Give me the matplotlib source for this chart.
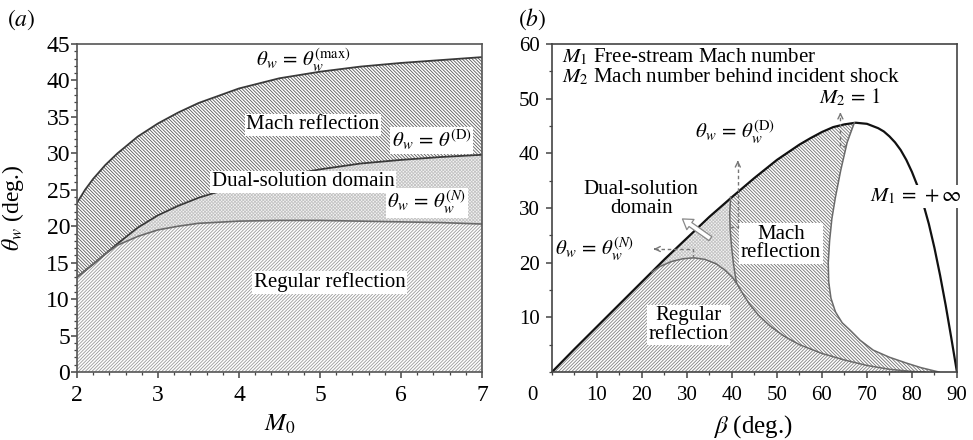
import numpy as np
import matplotlib
matplotlib.use("Agg")
from matplotlib import pyplot as plt
from matplotlib.ticker import MultipleLocator

plt.rcParams["font.family"] = ["Liberation Serif", "DejaVu Serif"]
plt.rcParams["mathtext.fontset"] = "stix"
plt.rcParams["hatch.linewidth"] = 0.6

# (a) transition boundaries against free-stream Mach number
M0 = [2.0, 2.1, 2.2, 2.35, 2.5, 2.75, 3.0, 3.25, 3.5, 4.0, 4.5, 5.0, 5.5, 6.0, 6.5, 7.0]
theta_max = [23.2, 25.0, 26.5, 28.4, 30.0, 32.3, 34.1, 35.6, 36.9, 38.9, 40.3, 41.2, 41.9, 42.4, 42.8, 43.2]
theta_D = [13.0, 13.9, 14.8, 16.2, 17.6, 19.8, 21.5, 22.8, 23.9, 25.6, 26.8, 27.8, 28.6, 29.1, 29.5, 29.8]
theta_N = [13.0, 13.9, 14.8, 16.2, 17.4, 18.6, 19.5, 20.0, 20.4, 20.7, 20.8, 20.8, 20.7, 20.6, 20.5, 20.3]

# (b) shock angle / wedge angle plane
beta_inf = [0, 5, 10, 15, 20, 25, 30, 35, 40, 45, 50, 55, 57.5, 60, 62.5, 65, 67.5, 70,
            72.5, 73.75, 75, 76.25, 77.5, 78.75, 80, 81.25, 82.5, 83.75, 85, 86.25, 87.5,
            88.75, 90]
theta_inf = [0, 4.2, 8.3, 12.4, 16.5, 20.6, 24.5, 28.4, 32.0, 35.5, 38.8, 41.6, 42.8, 43.9,
             44.8, 45.3, 45.6, 45.4, 44.6, 44.0, 43.1, 42.0, 40.6, 38.8, 36.6, 34.0, 30.8,
             27.1, 22.7, 17.7, 12.2, 6.2, 0]
beta_sonic = [67.2, 65.6, 64.2, 63.0, 62.2, 61.7, 61.4, 61.5, 62.0, 63.0, 64.5, 66.2, 68.5,
              71.4, 75.0, 78.9, 82.0, 84.0, 86.0]
theta_sonic = [45.6, 42.0, 37.0, 32.0, 28.0, 24.0, 20.0, 16.5, 13.5, 11.0, 9.0, 7.7, 5.8,
               4.0, 2.7, 1.6, 0.8, 0.4, 0.0]
beta_N = [22.2, 24.0, 26.5, 29.0, 31.5, 34.0, 36.5, 38.5, 40.0, 41.0]
theta_Nb = [18.3, 19.3, 20.2, 20.7, 20.9, 20.6, 19.8, 18.6, 17.4, 16.3]
beta_D = [39.7, 39.5, 39.6, 39.9, 40.3, 40.7, 41.0]
theta_Db = [32.0, 29.0, 26.0, 23.0, 20.0, 17.8, 16.3]
beta_RM = [41.0, 42.5, 44.0, 46.0, 48.5, 51.5, 55.0, 60.0, 65.0, 70.0, 75.0, 80.0, 83.0]
theta_RM = [16.3, 14.2, 12.3, 10.3, 8.4, 6.6, 5.0, 3.4, 2.2, 1.2, 0.5, 0.1, 0.0]

DARK = "#3a3a3a"
GREY = "#6a6a6a"
box = dict(facecolor="white", edgecolor="none", pad=1.0)
H_REG = "/" * 10
H_MACH = "\\" * 10
H_DUAL = "x" * 10

fig = plt.figure(figsize=(9.73, 4.40), dpi=100)
ax1 = fig.add_axes([0.0791, 0.1545, 0.4162, 0.7455])
ax2 = fig.add_axes([0.5673, 0.1545, 0.4162, 0.7455])

# ---------------- (a) ----------------
ax1.fill_between(M0, 0, theta_N, facecolor="white", edgecolor="#9a9a9a", hatch=H_REG, lw=0)
ax1.fill_between(M0, theta_N, theta_D, facecolor="#f4f4f4", edgecolor="#c4c4c4", hatch=H_DUAL, lw=0)
ax1.fill_between(M0, theta_D, theta_max, facecolor="white", edgecolor="#5a5a5a", hatch=H_MACH, lw=0)
ax1.plot(M0, theta_max, color=DARK, lw=1.3)
ax1.plot(M0, theta_D, color=DARK, lw=1.3)
ax1.plot(M0, theta_N, color=GREY, lw=1.2)

ax1.set_xlim(2, 7)
ax1.set_ylim(0, 45)
ax1.xaxis.set_major_locator(MultipleLocator(1))
ax1.xaxis.set_minor_locator(MultipleLocator(0.2))
ax1.yaxis.set_major_locator(MultipleLocator(5))
ax1.yaxis.set_minor_locator(MultipleLocator(1))
ax1.tick_params(which="both", direction="out", labelsize=17, color="#444444")
ax1.tick_params(which="major", length=4, width=1.1)
ax1.tick_params(which="minor", length=2.5, width=0.9)
ax1.tick_params(axis="x", pad=5)
ax1.tick_params(axis="y", pad=1)
for sp in ax1.spines.values():
    sp.set_color("#555555")
    sp.set_linewidth(1.2)

ax1.set_xlabel("$M_0$", fontsize=18)
ax1.xaxis.set_label_coords(0.5, -0.125)
ax1.set_ylabel(r"$\theta_w$ (deg.)", fontsize=17)
ax1.yaxis.set_label_coords(-0.125, 0.5)

ax1.text(4.79, 42.8, r"$\theta_w\,=\,\theta_w^{(\mathrm{max})}$", fontsize=15, ha="center", va="center")
ax1.text(4.91, 33.9, "Mach reflection", fontsize=15, ha="center", va="center", bbox=box)
ax1.text(6.38, 31.8, r"$\theta_w\,=\,\theta^{(\mathrm{D})}$", fontsize=15, ha="center", va="center", bbox=box)
ax1.text(4.79, 26.1, "Dual-solution domain", fontsize=15, ha="center", va="center", bbox=box)
ax1.text(6.32, 23.2, r"$\theta_w\,=\,\theta_w^{(N)}$", fontsize=15, ha="center", va="center", bbox=box)
ax1.text(5.12, 12.3, "Regular reflection", fontsize=15, ha="center", va="center", bbox=box)

# ---------------- (b) ----------------
b_inf = np.array(beta_inf)
t_inf = np.array(theta_inf)

lo = b_inf < beta_N[0]
reg_x = np.concatenate([b_inf[lo], beta_N, beta_RM[1:]])
reg_y = np.concatenate([t_inf[lo], theta_Nb, theta_RM[1:]])

mid = (b_inf > beta_N[0]) & (b_inf < beta_D[0])
dual_x = np.concatenate([[beta_N[0]], b_inf[mid], beta_D, beta_N[::-1]])
dual_y = np.concatenate([[theta_Nb[0]], t_inf[mid], theta_Db, theta_Nb[::-1]])

hi = (b_inf > beta_D[0]) & (b_inf < beta_sonic[0])
mach_x = np.concatenate([b_inf[hi], beta_sonic, beta_RM[::-1], beta_D[::-1]])
mach_y = np.concatenate([t_inf[hi], theta_sonic, theta_RM[::-1], theta_Db[::-1]])

ax2.fill(reg_x, reg_y, facecolor="white", edgecolor="#808080", hatch=H_REG, lw=0)
ax2.fill(dual_x, dual_y, facecolor="#f4f4f4", edgecolor="#c4c4c4", hatch=H_DUAL, lw=0)
ax2.fill(mach_x, mach_y, facecolor="white", edgecolor="#707070", hatch=H_MACH, lw=0)

ax2.plot(beta_inf, theta_inf, color="#111111", lw=1.6)
ax2.plot(beta_sonic, theta_sonic, color=GREY, lw=1.1)
ax2.plot(beta_N, theta_Nb, color=GREY, lw=1.1)
ax2.plot(beta_D, theta_Db, color=GREY, lw=1.1)
ax2.plot(beta_RM, theta_RM, color=GREY, lw=1.1)

# dashed pointers
dash = dict(color="#777777", lw=1.0, ls=(0, (2.5, 2)), zorder=4)
head = dict(arrowstyle="->", color="#777777", lw=1.0, mutation_scale=9)
ax2.plot([31.3, 31.3, 23.0], [20.9, 22.5, 22.5], **dash)
ax2.annotate("", xy=(22.0, 22.5), xytext=(23.5, 22.5), arrowprops=head, zorder=4)
ax2.plot([39.6, 41.3, 41.3], [26.5, 26.5, 38.3], **dash)
ax2.annotate("", xy=(41.3, 39.2), xytext=(41.3, 37.8), arrowprops=head, zorder=4)
ax2.plot([65.4, 64.1, 64.1], [41.3, 41.3, 47.1], **dash)
ax2.annotate("", xy=(64.1, 48.0), xytext=(64.1, 46.6), arrowprops=head, zorder=4)

# hollow arrow from the dual region up to its label
ax2.annotate("", xy=(29.0, 28.0), xytext=(35.2, 24.4),
             arrowprops=dict(arrowstyle="simple,head_width=0.9,head_length=0.7,tail_width=0.35",
                             facecolor="white", edgecolor="#888888", lw=0.9, shrinkA=0, shrinkB=0),
             zorder=4)

ax2.text(2.2, 57.7, "$M_1$ Free-stream Mach number", fontsize=15, ha="left", va="center")
ax2.text(2.2, 54.0, "$M_2$ Mach number behind incident shock", fontsize=15, ha="left", va="center")
ax2.text(66.2, 50.3, r"$M_2\,=\,1$", fontsize=15, ha="center", va="center")
ax2.text(40.7, 43.8, r"$\theta_w\,=\,\theta_w^{(\mathrm{D})}$", fontsize=15, ha="center", va="center")
ax2.text(19.8, 31.6, "Dual-solution\ndomain", fontsize=15, ha="center", va="center",
         linespacing=1.0)
ax2.text(9.5, 22.5, r"$\theta_w\,=\,\theta_w^{(N)}$", fontsize=15, ha="center", va="center")
ax2.text(50.9, 23.5, "Mach\nreflection", fontsize=15, ha="center", va="center",
         linespacing=0.95, bbox=box)
ax2.text(30.4, 8.6, "Regular\nreflection", fontsize=15, ha="center", va="center",
         linespacing=0.95, bbox=box)
ax2.text(80.9, 32.1, r"$M_1\,=\,+\infty$", fontsize=15, ha="center", va="center", bbox=box)

ax2.set_xlim(0, 90)
ax2.set_ylim(0, 60)
ax2.set_xticks(range(10, 91, 10))
ax2.set_yticks(range(10, 61, 10))
ax2.xaxis.set_minor_locator(MultipleLocator(5))
ax2.yaxis.set_minor_locator(MultipleLocator(5))
ax2.tick_params(which="both", direction="out", labelsize=15, color="#444444")
ax2.tick_params(which="major", length=4, width=1.1)
ax2.tick_params(which="minor", length=2.5, width=0.9)
ax2.tick_params(axis="x", pad=6)
ax2.tick_params(axis="y", pad=5)
for sp in ax2.spines.values():
    sp.set_color("#444444")
    sp.set_linewidth(1.2)
# the zero of the beta axis sits a little left of the corner
ax2.annotate("0", xy=(0, 0), xycoords=("data", "axes fraction"), xytext=(-14.4, -10),
             textcoords="offset points", ha="center", va="top", fontsize=15)

ax2.set_xlabel(r"$\beta$ (deg.)", fontsize=18)
ax2.xaxis.set_label_coords(0.496, -0.125)

fig.text(0.0216, 0.9545, "$(a)$", fontsize=17, ha="center", va="center")
fig.text(0.5468, 0.957, "$(b)$", fontsize=17, ha="center", va="center")

fig.savefig("out.png", dpi=100)
